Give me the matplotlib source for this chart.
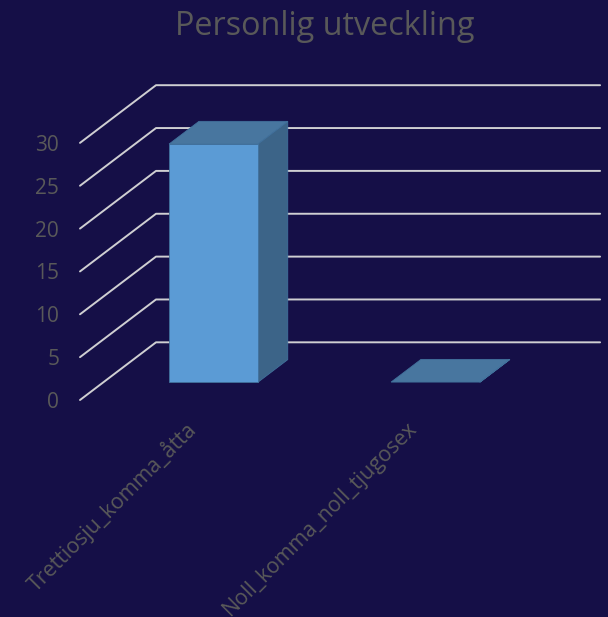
import matplotlib
matplotlib.use("Agg")
import matplotlib.pyplot as plt
from matplotlib.patches import Polygon
from matplotlib.transforms import ScaledTranslation

title = "Personlig utveckling"
categories = ["Trettiosju_komma_åtta", "Noll_komma_noll_tjugosex"]
values = [27.8, 0.026]
y_ticks = [0, 5, 10, 15, 20, 25, 30]

W, H = 608, 617
BG = "#150F47"
TEXT = "#595959"
GRID = "#CFCFD2"
FRONT = "#5B9BD5"
TOP = "#48769F"
SIDE = "#3C6488"
EDGE = "#41719C"

plt.rcParams["font.family"] = ["Open Sans", "DejaVu Sans"]
fig = plt.figure(figsize=(W / 100, H / 100), dpi=100, facecolor=BG)
ax = fig.add_axes([80 / W, (H - 400) / H, 520 / W, 400 / H], facecolor=BG)
ax.set_xlim(-0.5, 1.842)
ax.set_ylim(0, 46.67)
for s in ax.spines.values():
    s.set_visible(False)

# oblique depth of the 3D box, in data units
DX, DY = 76 / 222, 6.73
D0, D1 = 0.307, 0.70
BW = 0.40
SHIFT = -0.004


def proj(c, v, d):
    return (c + SHIFT + DX * d, v + DY * d)


for t in y_ticks:
    xs = [-0.5, -0.5 + DX, 1.5 + DX]
    ys = [t, t + DY, t + DY]
    ax.plot(xs, ys, color=GRID, lw=1.4, clip_on=False, zorder=1, solid_capstyle="round")

for i, v in enumerate(values):
    l, r = i - BW / 2, i + BW / 2
    kw = dict(edgecolor=EDGE, lw=0.6, zorder=3, clip_on=False)
    ax.add_patch(Polygon([proj(r, 0, D0), proj(r, 0, D1), proj(r, v, D1), proj(r, v, D0)], facecolor=SIDE, **kw))
    ax.add_patch(Polygon([proj(l, v, D0), proj(r, v, D0), proj(r, v, D1), proj(l, v, D1)], facecolor=TOP, **kw))
    if v > 1:
        ax.add_patch(Polygon([proj(l, 0, D0), proj(r, 0, D0), proj(r, v, D0), proj(l, v, D0)], facecolor=FRONT, **kw))

ax.set_yticks(y_ticks)
ax.set_yticklabels([str(t) for t in y_ticks], fontsize=15, color=TEXT)
ax.tick_params(axis="y", length=0, pad=15)
ax.set_xticks(range(len(categories)))
ax.set_xticklabels(categories, fontsize=15.4, color=TEXT, rotation=45, ha="right", va="top", rotation_mode="anchor")
ax.tick_params(axis="x", length=0, pad=13)
off = ScaledTranslation(-6 / 100, 0, fig.dpi_scale_trans)
for lab in ax.get_xticklabels():
    lab.set_transform(lab.get_transform() + off)

ax.set_title(title, fontsize=23.3, color=TEXT, x=(324.5 - 80) / 520, y=(400 - 26.5) / 400, va="center", pad=0)

fig.savefig("out.png", dpi=100, facecolor=BG)
